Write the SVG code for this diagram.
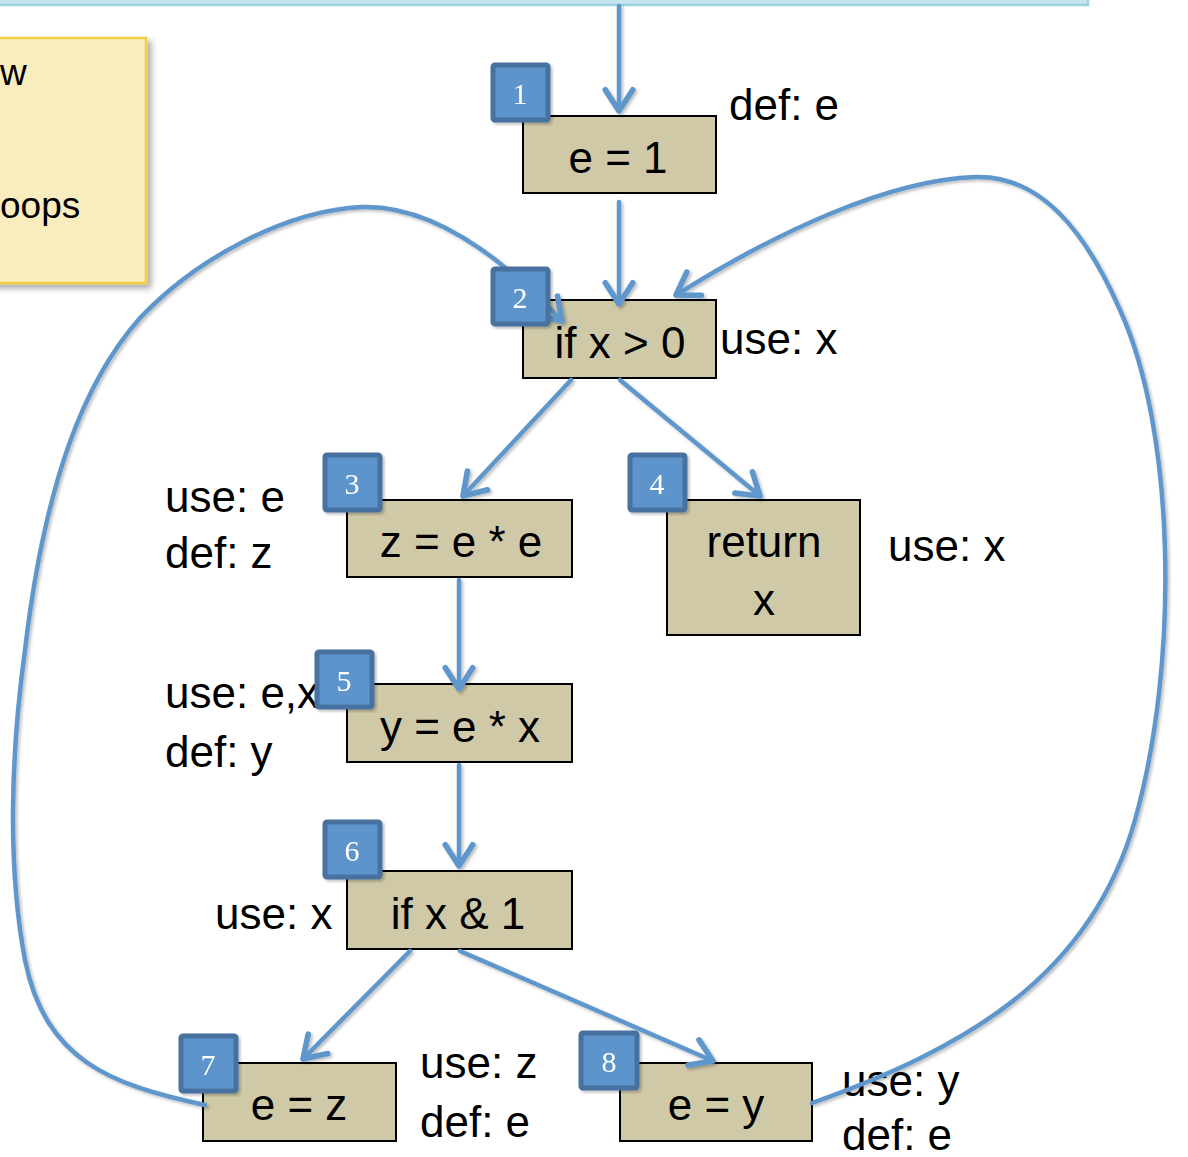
<svg xmlns="http://www.w3.org/2000/svg" width="1188" height="1157" viewBox="0 0 1188 1157">
  <defs>
    <style>
      .node rect { fill: #cfc9a7; stroke: #000; stroke-width: 2; }
      .code { font-family: "Liberation Sans", Arial, sans-serif; font-size: 44px; fill: #000; text-anchor: middle; }
      .note { font-family: "Liberation Sans", Arial, sans-serif; font-size: 44px; fill: #000; }
      .badge rect { fill: #5d94cb; stroke: #46729f; stroke-width: 5; }
      .badge text { font-family: "Liberation Serif", "Times New Roman", serif; font-size: 30px; fill: #fff; text-anchor: middle; }
      .edge { fill: none; stroke: #5f97cc; stroke-width: 4.5; stroke-linecap: round; marker-end: url(#arrow); }
      .callout { font-family: "Liberation Sans", Arial, sans-serif; font-size: 37px; fill: #000; }
    </style>
    <marker id="arrow" markerUnits="userSpaceOnUse" markerWidth="40" markerHeight="40" viewBox="-22 -16 26 32" refX="0" refY="0" orient="auto">
      <path d="M-17,-11 L0,0 L-17,11" fill="none" stroke="#5f97cc" stroke-width="4.5" stroke-linecap="round" stroke-linejoin="round"/>
    </marker>
    <filter id="shade" x="-10%" y="-10%" width="120%" height="120%">
      <feDropShadow dx="2" dy="2" stdDeviation="1.5" flood-color="#000" flood-opacity="0.25"/>
    </filter>
    <filter id="boxshade" x="-10%" y="-10%" width="130%" height="130%">
      <feDropShadow dx="4" dy="4" stdDeviation="3" flood-color="#000" flood-opacity="0.35"/>
    </filter>
  </defs>

  <rect width="1188" height="1157" fill="#fff"/>

  <!-- title banner edge -->
  <rect x="-2" y="-2" width="1090" height="7" fill="#c4e4ee" stroke="#9ed3e0" stroke-width="2.5"/>

  <!-- side callout -->
  <g id="callout">
    <rect x="-10" y="38" width="156" height="245" fill="#f9ecbf" stroke="#f2cf42" stroke-width="2.5" filter="url(#boxshade)"/>
    <text class="callout" x="0" y="85">w</text>
    <text class="callout" x="0" y="218">oops</text>
  </g>

  <!-- statements -->
  <g id="n1" class="node">
    <rect x="523" y="116" width="193" height="77"/>
    <text class="code" x="618" y="173">e = 1</text>
  </g>
  <g id="n2" class="node">
    <rect x="523" y="300" width="193" height="78"/>
    <text class="code" x="620" y="358">if x &gt; 0</text>
  </g>
  <g id="n3" class="node">
    <rect x="347" y="500" width="225" height="77"/>
    <text class="code" x="461" y="557">z = e * e</text>
  </g>
  <g id="n4" class="node">
    <rect x="667" y="500" width="193" height="135"/>
    <text class="code" x="764" y="557">return</text>
    <text class="code" x="764" y="615">x</text>
  </g>
  <g id="n5" class="node">
    <rect x="347" y="684" width="225" height="78"/>
    <text class="code" x="460" y="742">y = e * x</text>
  </g>
  <g id="n6" class="node">
    <rect x="347" y="871" width="225" height="78"/>
    <text class="code" x="458" y="929">if x &amp; 1</text>
  </g>
  <g id="n7" class="node">
    <rect x="203" y="1063" width="193" height="78"/>
    <text class="code" x="299" y="1120">e = z</text>
  </g>
  <g id="n8" class="node">
    <rect x="620" y="1063" width="192" height="78"/>
    <text class="code" x="716" y="1120">e = y</text>
  </g>

  <!-- use / def annotations -->
  <g id="annotations">
    <text class="note" x="729" y="120">def: e</text>
    <text class="note" x="720" y="354">use: x</text>
    <text class="note" x="165" y="512">use: e</text>
    <text class="note" x="165" y="568">def: z</text>
    <text class="note" x="888" y="561">use: x</text>
    <text class="note" x="165" y="708">use: e,x</text>
    <text class="note" x="165" y="767">def: y</text>
    <text class="note" x="215" y="929">use: x</text>
    <text class="note" x="420" y="1078">use: z</text>
    <text class="note" x="420" y="1137">def: e</text>
    <text class="note" x="842" y="1096">use: y</text>
    <text class="note" x="842" y="1150">def: e</text>
  </g>

  <!-- control-flow edges -->
  <g id="edges" filter="url(#shade)">
    <path class="edge" d="M619,6 L619,111"/>
    <path class="edge" d="M619,202 L619,304"/>
    <path class="edge" d="M571,380 L463,496"/>
    <path class="edge" d="M620,380 L760,496"/>
    <path class="edge" d="M459,580 L459,689"/>
    <path class="edge" d="M459,765 L459,866"/>
    <path class="edge" d="M410,951 L303,1059"/>
    <path class="edge" d="M460,951 L713,1061"/>
    <!-- back edge from e = y to the loop test -->
    <path class="edge" d="M812,1103 C 960,1050 1090,980 1135,820 C 1180,660 1175,430 1120,310 C 1085,230 1040,175 975,177 C 890,180 780,230 676,295"/>
    <!-- back edge from e = z to the loop test -->
    <path class="edge" d="M205,1105 C 110,1085 45,1060 25,960 C 8,870 10,760 25,650 C 45,480 85,380 140,318 C 200,255 290,210 362,207 C 430,205 500,255 562,321"/>
  </g>

  <!-- block numbers -->
  <g id="b1" class="badge" filter="url(#shade)"><rect x="493" y="65" width="55" height="55" rx="2"/><text x="520" y="104">1</text></g>
  <g id="b2" class="badge" filter="url(#shade)"><rect x="493" y="269" width="55" height="55" rx="2"/><text x="520" y="308">2</text></g>
  <g id="b3" class="badge" filter="url(#shade)"><rect x="325" y="455" width="55" height="55" rx="2"/><text x="352" y="494">3</text></g>
  <g id="b4" class="badge" filter="url(#shade)"><rect x="630" y="455" width="55" height="55" rx="2"/><text x="657" y="494">4</text></g>
  <g id="b5" class="badge" filter="url(#shade)"><rect x="317" y="652" width="55" height="55" rx="2"/><text x="344" y="691">5</text></g>
  <g id="b6" class="badge" filter="url(#shade)"><rect x="325" y="822" width="55" height="55" rx="2"/><text x="352" y="861">6</text></g>
  <g id="b7" class="badge" filter="url(#shade)"><rect x="181" y="1036" width="55" height="55" rx="2"/><text x="208" y="1075">7</text></g>
  <g id="b8" class="badge" filter="url(#shade)"><rect x="581" y="1033" width="56" height="55" rx="2"/><text x="609" y="1072">8</text></g>
</svg>
